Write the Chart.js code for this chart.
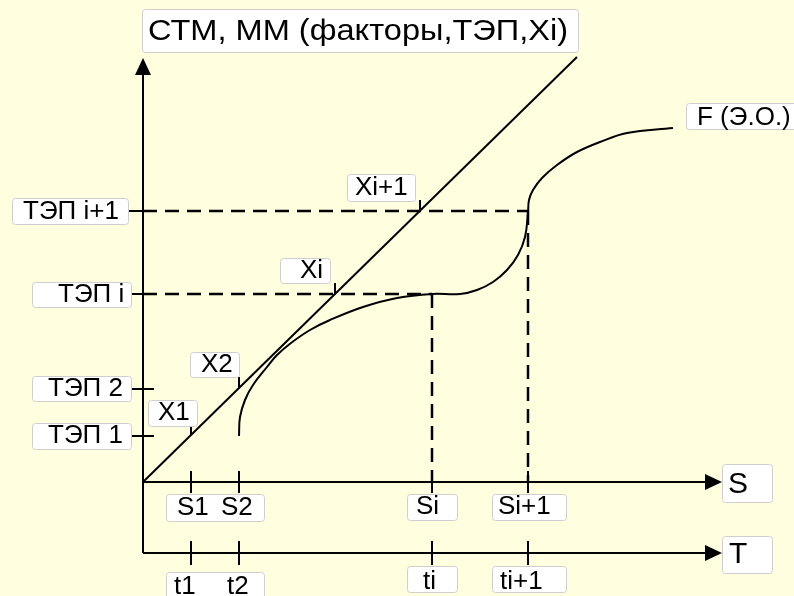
<!DOCTYPE html>
<html><head><meta charset="utf-8">
<script src="https://cdn.jsdelivr.net/npm/chart.js@4/dist/chart.umd.min.js"></script>
<style>html,body{margin:0;padding:0;background:#FFFFE0;}#wrap{width:794px;height:596px;position:relative;}</style>
</head><body><div id="wrap"><canvas id="c"></canvas></div>
<script>
// ---- data (units = offset from the origin of the S / value axes) ----
const sTickValues = [48, 96, 289, 385];
const sTickLabels = ['S1', 'S2', 'Si', 'Si+1'];
const tTickLabels = ['t1', 't2', 'ti', 'ti+1'];
const tepLevels = [46, 93, 188, 271];
const tepLabels = ['ТЭП 1', 'ТЭП 2', 'ТЭП i', 'ТЭП i+1'];
const xMarkS = [48, 96, 192, 277];
const xMarkY = [47, 94, 188, 271];
const xMarkLabels = ['X1', 'X2', 'Xi', 'Xi+1'];
const diagS = [0, 434];
const diagY = [0, 425];
const curveS = [96, 97, 102, 110, 124, 134, 148, 167, 187, 220, 254, 289, 317, 334, 350, 364, 375, 382, 385, 386, 390, 399, 414, 434, 457, 484, 530];
const curveY = [46, 65, 82, 97, 115, 127, 139, 152, 162, 175, 184, 188, 188, 192, 200, 212, 227, 245, 269, 282, 292, 304, 317, 330, 340, 349, 354];
const yAxisTop = 424;
const axisEnd = 579;
const tAxisLevel = -71;
const titleText = 'СТМ, ММ (факторы,ТЭП,Xi)';
const curveLabel = 'F (Э.О.)';
const sAxisLabel = 'S';
const tAxisLabel = 'T';

// ---- datasets ----
const datasets = [];
function seg(pts, opts) {
  datasets.push(Object.assign({
    data: pts, showLine: true, borderColor: '#000', backgroundColor: '#000',
    borderWidth: 2, pointRadius: 0, fill: false, tension: 0
  }, opts || {}));
}
// axes
seg([{x: 0, y: tAxisLevel}, {x: 0, y: yAxisTop - 8}]);
seg([{x: 0, y: 0}, {x: axisEnd - 8, y: 0}]);
seg([{x: 0, y: tAxisLevel}, {x: axisEnd - 8, y: tAxisLevel}]);
// diagonal
seg(diagS.map((s, i) => ({x: s, y: diagY[i]})));
// curve F
seg(curveS.map((s, i) => ({x: s, y: curveY[i]})), {tension: 0.4});
// dashed guides
const dash = {borderDash: [14, 8], borderWidth: 2.5};
seg([{x: 0, y: tepLevels[3]}, {x: sTickValues[3], y: tepLevels[3]}], dash);
seg([{x: 0, y: tepLevels[2]}, {x: sTickValues[2], y: tepLevels[2]}], dash);
seg([{x: sTickValues[2], y: tepLevels[2]}, {x: sTickValues[2], y: 0}], dash);
seg([{x: sTickValues[3], y: tepLevels[3]}, {x: sTickValues[3], y: 0}], dash);
// ticks
sTickValues.forEach(v => {
  seg([{x: v, y: -11}, {x: v, y: 11}]);
  seg([{x: v, y: tAxisLevel - 12}, {x: v, y: tAxisLevel + 12}]);
});
tepLevels.forEach(v => seg([{x: -15, y: v}, {x: 11, y: v}]));
xMarkS.forEach((s, i) => seg([{x: s, y: xMarkY[i]}, {x: s, y: xMarkY[i] + 11}]));

// ---- annotation layout (pixels) ----
const boxes = [
  {box: [142, 9, 578, 52], texts: [[titleText, 148, 40, 420]], size: 29},
  {box: [686, 103, 800, 129], texts: [[curveLabel, 697, 125]], size: 26},
  {box: [722, 464, 772, 502], texts: [[sAxisLabel, 728, 493]], size: 30},
  {box: [722, 536, 772, 573], texts: [[tAxisLabel, 729, 563]], size: 30},
  {box: [12, 198, 128, 224], texts: [[tepLabels[3], 23, 219]], size: 26},
  {box: [32, 282, 131, 307], texts: [[tepLabels[2], 58, 302]], size: 26},
  {box: [32, 376, 131, 401], texts: [[tepLabels[1], 48, 396]], size: 26},
  {box: [32, 423, 131, 449], texts: [[tepLabels[0], 48, 443]], size: 26},
  {box: [148, 400, 197, 426], texts: [[xMarkLabels[0], 158, 420]], size: 26},
  {box: [190, 352, 239, 377], texts: [[xMarkLabels[1], 201, 372]], size: 26},
  {box: [280, 258, 330, 283], texts: [[xMarkLabels[2], 300, 278]], size: 26},
  {box: [347, 174, 415, 201], texts: [[xMarkLabels[3], 355, 195]], size: 26},
  {box: [166, 494, 264, 521], texts: [[sTickLabels[0], 177, 515], [sTickLabels[1], 221, 515]], size: 26},
  {box: [407, 494, 457, 520], texts: [[sTickLabels[2], 416, 514]], size: 26},
  {box: [492, 494, 566, 520], texts: [[sTickLabels[3], 498, 514]], size: 26},
  {box: [166, 572, 264, 600], texts: [[tTickLabels[0], 174, 594], [tTickLabels[1], 227, 594]], size: 26},
  {box: [407, 566, 457, 592], texts: [[tTickLabels[2], 423, 589]], size: 26},
  {box: [492, 566, 566, 592], texts: [[tTickLabels[3], 500, 589]], size: 26}
];

const bgPlugin = {
  id: 'bg',
  beforeDraw(chart) {
    const ctx = chart.ctx;
    ctx.save(); ctx.fillStyle = '#FFFFE0';
    ctx.fillRect(0, 0, chart.width, chart.height); ctx.restore();
  }
};
const arrowPlugin = {
  id: 'arrows',
  afterDatasetsDraw(chart) {
    const ctx = chart.ctx, xs = chart.scales.x, ys = chart.scales.y;
    const arrows = [[0, yAxisTop, 'up'], [axisEnd, 0, 'right'], [axisEnd, tAxisLevel, 'right']];
    ctx.save(); ctx.fillStyle = '#000';
    arrows.forEach(([vx, vy, dir]) => {
      const px = xs.getPixelForValue(vx), py = ys.getPixelForValue(vy);
      ctx.beginPath();
      if (dir === 'up') {
        ctx.moveTo(px, py); ctx.lineTo(px - 8, py + 17); ctx.lineTo(px + 8, py + 17);
      } else {
        ctx.moveTo(px, py); ctx.lineTo(px - 17, py - 8); ctx.lineTo(px - 17, py + 8);
      }
      ctx.closePath(); ctx.fill();
    });
    ctx.restore();
  }
};
const labelPlugin = {
  id: 'labels',
  afterDatasetsDraw(chart) {
    const ctx = chart.ctx;
    ctx.save();
    boxes.forEach(b => {
      const [x0, y0, x1, y1] = b.box;
      ctx.beginPath();
      ctx.roundRect(x0 + 0.5, y0 + 0.5, x1 - x0, y1 - y0, 3);
      ctx.fillStyle = '#FFFFFF'; ctx.fill();
      ctx.strokeStyle = '#CFCFCF'; ctx.lineWidth = 1; ctx.stroke();
      ctx.fillStyle = '#000';
      ctx.font = b.size + 'px "Liberation Sans", Arial, sans-serif';
      ctx.textBaseline = 'alphabetic'; ctx.textAlign = 'left';
      b.texts.forEach(([t, tx, ty, fitW]) => {
        if (fitW) {
          const w = ctx.measureText(t).width;
          ctx.save(); ctx.translate(tx, ty); ctx.scale(fitW / w, 1);
          ctx.fillText(t, 0, 0); ctx.restore();
        } else {
          ctx.fillText(t, tx, ty);
        }
      });
    });
    ctx.restore();
  }
};

new Chart(document.getElementById('c'), {
  type: 'scatter',
  data: {datasets},
  options: {
    responsive: true, maintainAspectRatio: false, animation: false, events: [],
    layout: {padding: 0},
    plugins: {legend: {display: false}, tooltip: {enabled: false}},
    scales: {
      x: {type: 'linear', min: -143, max: 651, display: false},
      y: {type: 'linear', min: -114, max: 482, display: false}
    }
  },
  plugins: [bgPlugin, arrowPlugin, labelPlugin]
});
</script></body></html>
